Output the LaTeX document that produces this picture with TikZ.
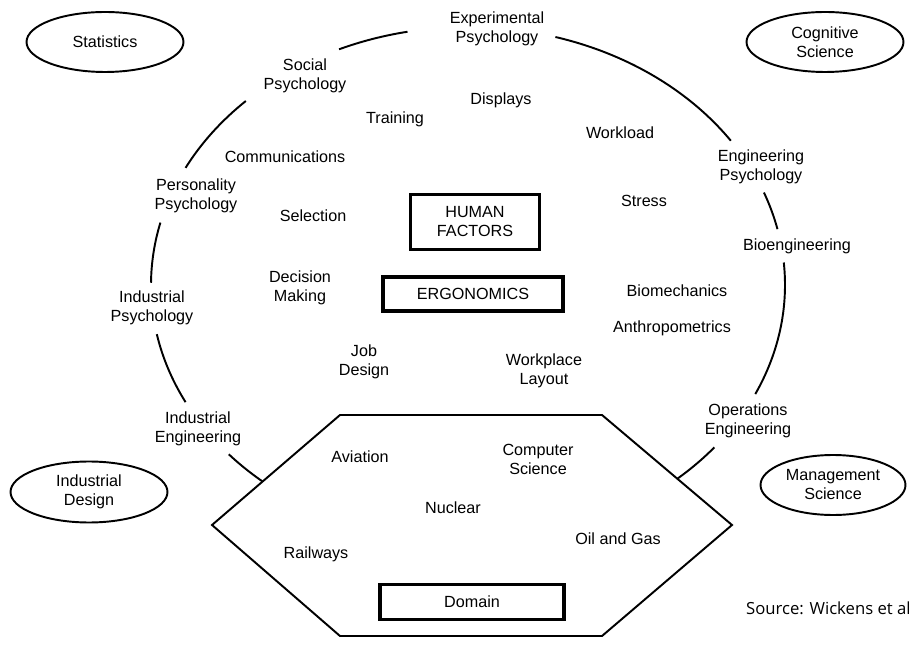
\documentclass[tikz,border=0pt]{standalone}
\usepackage{fontspec}
\setmainfont{Liberation Sans}
\newfontfamily\srcfont{Open Sans}
\usetikzlibrary{shapes.geometric}
\usetikzlibrary{positioning}

\begin{document}
\begin{tikzpicture}
[
x=0.02cm, y=0.02cm,
% 文字の設定
every node/.style={align=center, inner sep=0, font=\fontsize{9.2}{10.8}\selectfont},
% 周りの分野（楕円）
field/.style={ellipse, draw, line width=1.1pt, minimum width=3.14cm, minimum height=1.2cm},
% 中心のブロック
block/.style={rectangle, draw, line width=2.2pt},
% 円周の線
ring/.style={line width=1.1pt}
]
\useasboundingbox (0,0) rectangle (909,646);
\coordinate (C) at (468,361);

% 円周（ラベルの所で切る）
\foreach \a/\b in {101/114, 34/74, 12.5/21, -25/5, -55/-39, 221/235, 191/207, 166/179.5, 134.5/153}
  \draw[ring] (C) ++(\a:317 and 258) arc[start angle=\a, end angle=\b, x radius=317, y radius=258];

% 六角形（応用分野）
\draw[ring, fill=white] (340,231) -- (602,231) -- (732,121) -- (602,10) -- (340,10) -- (212,121) -- cycle;

% 周りの分野
\node[field] (stat) at (105,604) {Statistics};
\node[field] (cogsci) at (825,604) {Cognitive\\Science};
\node[field, minimum height=1.22cm] (inddes) at (89,154) {Industrial\\Design};
\node[field, minimum width=2.9cm] (mansci) at (833,161) {Management\\Science};

% 中心のブロック
\node[block, minimum width=2.58cm, minimum height=1.1cm] (HF) at (475,424) {HUMAN\\FACTORS};
\node[block, minimum width=3.6cm, minimum height=0.68cm, below=0.48cm of HF, xshift=-0.04cm] (ergo) {ERGONOMICS};
\node[block, minimum width=3.68cm, minimum height=0.7cm, line width=2pt] (domain) at (472,44) {Domain};

% 円周上の分野
\node (expPsy) at (497,617) {Experimental\\Psychology};
\node (socPsy) at (305,570) {Social\\Psychology};
\node (persPsy) at (196,450) {Personality\\Psychology};
\node (indPsy) at (152,338) {Industrial\\Psychology};
\node (indEng) at (198,217) {Industrial\\Engineering};
\node (engPsy) at (761,479) {Engineering\\Psychology};
\node (bioeng) at (797,400) {Bioengineering};
\node (opsEng) at (748,225) {Operations\\Engineering};

% 円の内側のトピック
\node (training) at (395,527) {Training};
\node (displays) at (501,546) {Displays};
\node (workload) at (620,513) {Workload};
\node (comm) at (285,489) {Communications};
\node (selection) at (313,430) {Selection};
\node (stress) at (644,445) {Stress};
\node (decision) at (300,358) {Decision\\Making};
\node (biomech) at (677,355) {Biomechanics};
\node (anthro) at (672,318) {Anthropometrics};
\node (job) at (364,284) {Job\\Design};
\node (workplace) at (544,275) {Workplace\\Layout};

% 六角形の中
\node (aviation) at (360,189) {Aviation};
\node (compsci) at (538,187) {Computer\\Science};
\node (nuclear) at (453,138) {Nuclear};
\node (oilgas) at (618,107) {Oil and Gas};
\node (railways) at (316,92) {Railways};

% 出典
\node[anchor=east, font=\srcfont\fontsize{9.5}{11}\selectfont] (source) at (911,38) {Source: Wickens et al};
\end{tikzpicture}
\end{document}
